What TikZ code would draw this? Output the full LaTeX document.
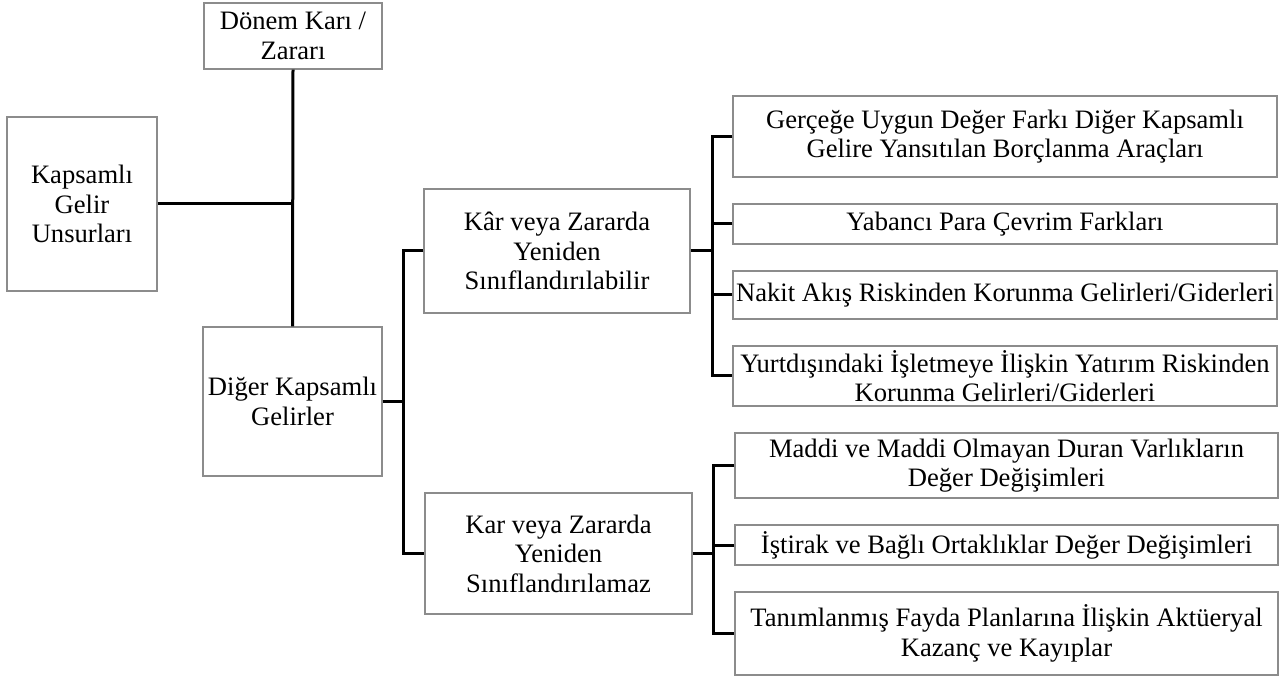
\documentclass[tikz,border=0pt]{standalone}
\usepackage{fontspec}
\setmainfont{Liberation Serif}
\usepackage{tikz}
\usetikzlibrary{calc}
\tikzset{
	kutu/.style={draw=black!45, line width=0.7pt, align=center, inner sep=0pt, font=\fontsize{13.3}{14.8}\selectfont},
	hat/.style={line width=1.5pt, color=black},
}

\begin{document}
\begin{tikzpicture}[x=0.5pt, y=-0.5pt]
			%%%%% START %%%%%
			\useasboundingbox (0, 0) rectangle (1280, 678);
			
			\node[kutu, minimum width=89pt, minimum height=33pt] (donem) at (293, 36) {Dönem Karı /\\Zararı};
			\node[kutu, minimum width=75pt, minimum height=87pt] (kapsamli) at (82, 204) {Kapsamlı\\Gelir\\Unsurları};
			\node[kutu, minimum width=89.5pt, minimum height=74.5pt] (diger) at (292.5, 401.5) {Diğer Kapsamlı\\Gelirler};
			
			\node[kutu, minimum width=133pt, minimum height=62pt] (karA) at (557, 251) {Kâr veya Zararda\\Yeniden\\Sınıflandırılabilir};
			\node[kutu, minimum width=133.5pt, minimum height=60.5pt] (karB) at (558.5, 553.5) {Kar veya Zararda\\Yeniden\\Sınıflandırılamaz};
			
			\node[kutu, minimum width=272pt, minimum height=40.5pt] (g1) at (1005, 136.5) {Gerçeğe Uygun Değer Farkı Diğer Kapsamlı\\Gelire Yansıtılan Borçlanma Araçları};
			\node[kutu, minimum width=272pt, minimum height=20pt] (g2) at (1005, 224) {Yabancı Para Çevrim Farkları};
			\node[kutu, minimum width=272pt, minimum height=24pt] (g3) at (1005, 295) {Nakit Akış Riskinden Korunma Gelirleri/Giderleri};
			\node[kutu, minimum width=272pt, minimum height=30pt] (g4) at (1005, 376) {Yurtdışındaki İşletmeye İlişkin Yatırım Riskinden\\Korunma Gelirleri/Giderleri};
			
			\node[kutu, minimum width=271.5pt, minimum height=32.5pt] (h1) at (1006.5, 465.5) {Maddi ve Maddi Olmayan Duran Varlıkların\\Değer Değişimleri};
			\node[kutu, minimum width=271.5pt, minimum height=20pt] (h2) at (1006.5, 545) {İştirak ve Bağlı Ortaklıklar Değer Değişimleri};
			\node[kutu, minimum width=271.5pt, minimum height=41.5pt] (h3) at (1006.5, 633.5) {Tanımlanmış Fayda Planlarına İlişkin Aktüeryal\\Kazanç ve Kayıplar};
			
			\coordinate (kol1) at (403, 0);
			\coordinate (kol2) at (712, 0);
			\coordinate (kol3) at (713, 0);
			
			\draw[hat] (donem.south) -- (diger.north);
			\draw[hat] (kapsamli.east) -- (kapsamli.east -| donem.south);
			
			\draw[hat] (diger.east) -- (diger.east -| kol1);
			\draw[hat] (karA.west) -| (kol1 |- karB.west) -- (karB.west);
			
			\draw[hat] (karA.east) -- (karA.east -| kol2);
			\draw[hat] (g1.west) -| (kol2 |- g4.west) -- (g4.west);
			\draw[hat] (g2.west) -- (g2.west -| kol2);
			\draw[hat] (g3.west) -- (g3.west -| kol2);
			
			\draw[hat] (karB.east) -- (karB.east -| kol3);
			\draw[hat] (h1.west) -| (kol3 |- h3.west) -- (h3.west);
			\draw[hat] (h2.west) -- (h2.west -| kol3);
			
			%%%%% END %%%%%
\end{tikzpicture}
\end{document}
